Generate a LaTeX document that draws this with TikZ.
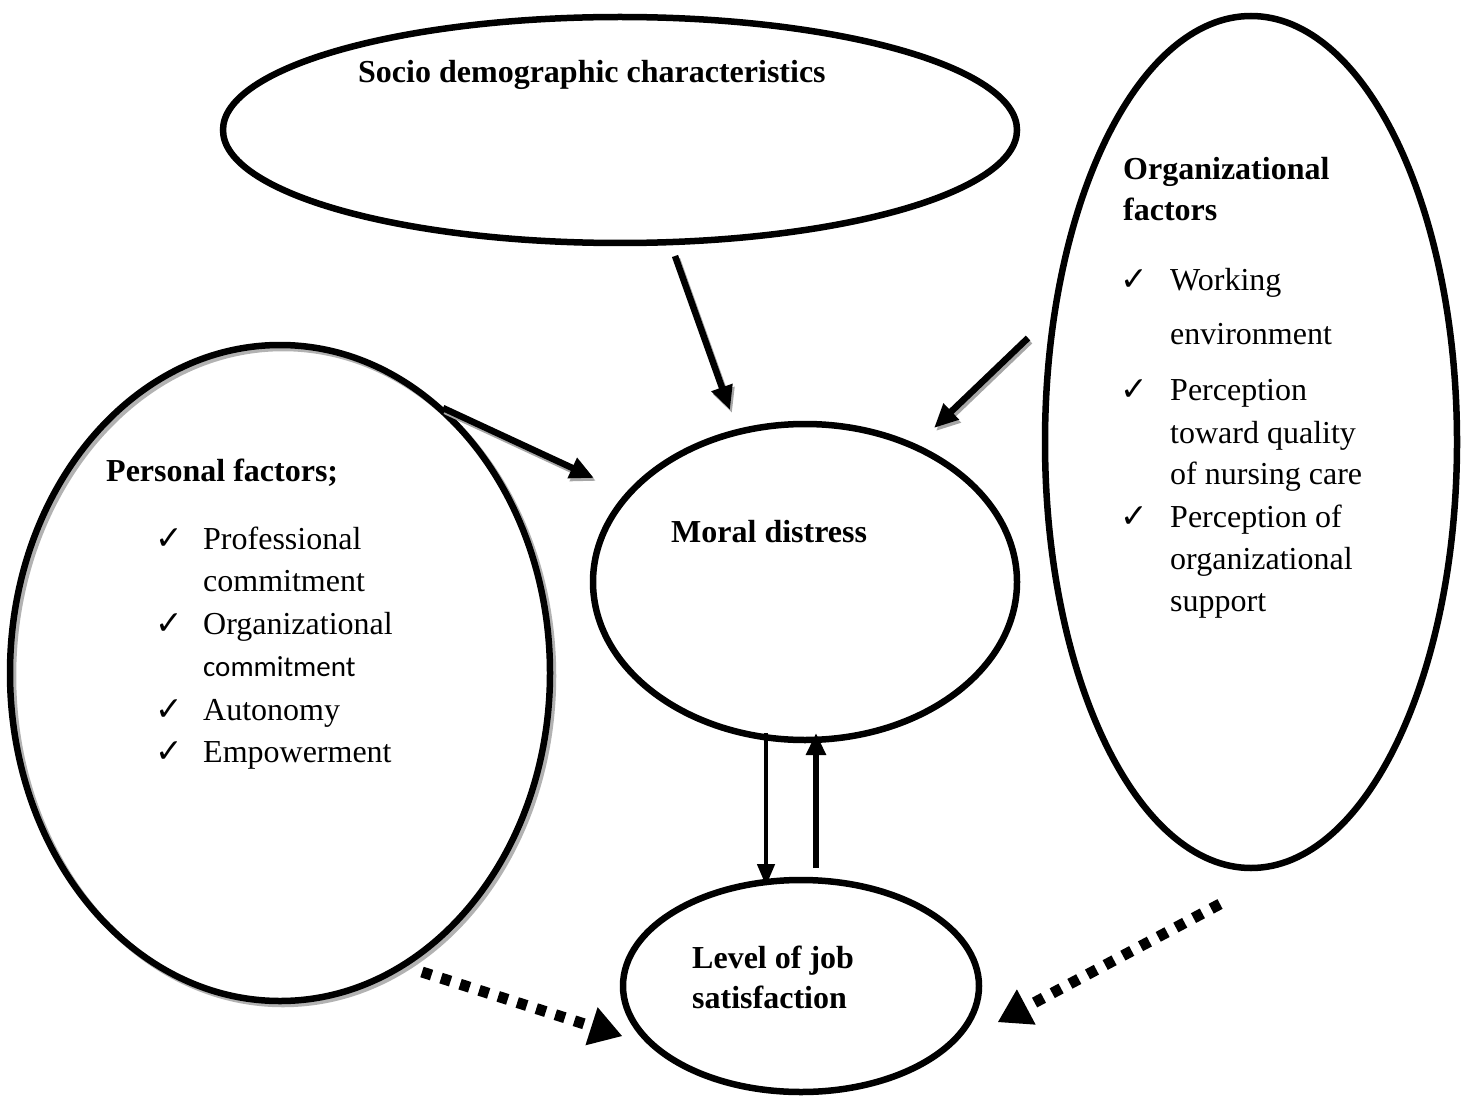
\documentclass[tikz,border=0pt]{standalone}
\usepackage{fontspec}
\setmainfont{Liberation Serif}
\newfontfamily\calib{Carlito}
\newfontfamily\chk{DejaVu Sans}
\usetikzlibrary{shapes.geometric,arrows.meta}
\begin{document}
\begin{tikzpicture}[x=1pt,y=-1pt,
  oval/.style={draw,ellipse,line width=6.5pt,inner sep=0pt},
  txt/.style={anchor=base west,inner sep=0pt,font=\fontsize{32}{40}\selectfont},
  btxt/.style={txt,font=\fontsize{32}{40}\selectfont\bfseries},
  ck/.style={anchor=base west,inner sep=0pt,font=\fontsize{33}{40}\selectfont\chk},
  solidarr/.style={line width=6.5pt,-{Triangle[length=24pt,width=21pt]}},
  shadowarr/.style={line width=6.5pt,draw=gray!70,-{Triangle[length=24pt,width=21pt]}},
  dotarr/.style={line width=11pt,dash pattern=on 10pt off 10pt,-{Triangle[length=32pt,width=40pt,line width=0pt]}}]
\useasboundingbox (0,0) rectangle (1463,1099);
% ellipses
\node[oval,minimum width=794pt,minimum height=226pt] (socio) at (620,130) {};
\node[oval,minimum width=412pt,minimum height=852pt] (org) at (1251,442) {};
\node[ellipse,inner sep=0pt,draw=gray!60,line width=6.5pt,minimum width=540pt,minimum height=656pt] (persshadow) at (283,676) {};
\node[oval,minimum width=540pt,minimum height=656pt] (pers) at (280,673) {};
\node[oval,minimum width=424pt,minimum height=316pt] (moral) at (805,582) {};
\node[oval,minimum width=356pt,minimum height=212pt] (job) at (801,986) {};
% texts
\node[btxt] (t1) at (358,83) {Socio demographic characteristics};
\node[btxt] (o1) at (1123,180) {Organizational};
\node[btxt] (o2) at (1123,221) {factors};
\node[ck] (oc1) at (1120,290) {✓};
\node[txt] (o3) at (1170,290) {Working};
\node[txt] (o4) at (1170,344) {environment};
\node[ck] (oc2) at (1120,400) {✓};
\node[txt] (o5) at (1170,400) {Perception};
\node[txt] (o6) at (1170,443) {toward quality};
\node[txt] (o7) at (1170,484) {of nursing care};
\node[ck] (oc3) at (1120,527) {✓};
\node[txt] (o8) at (1170,527) {Perception of};
\node[txt] (o9) at (1170,569) {organizational};
\node[txt] (o10) at (1170,611) {support};
\node[btxt] (p0) at (106,481) {Personal factors;};
\node[ck] (pc1) at (155,549) {✓};
\node[txt] (p1) at (203,549) {Professional};
\node[txt] (p2) at (203,591) {commitment};
\node[ck] (pc2) at (155,634) {✓};
\node[txt] (p3) at (203,634) {Organizational};
\node[txt,font=\fontsize{29}{36}\selectfont\calib] (p4) at (203,676) {commitment};
\node[ck] (pc3) at (155,720) {✓};
\node[txt] (p5) at (203,720) {Autonomy};
\node[ck] (pc4) at (155,762) {✓};
\node[txt] (p6) at (203,762) {Empowerment};
\node[btxt] (m1) at (671,542) {Moral distress};
\node[btxt] (j1) at (692,968) {Level of job};
\node[btxt] (j2) at (692,1008) {satisfaction};
% arrow endpoints
\coordinate (sa) at (675,256); \coordinate (sb) at (730,410);
\coordinate (oa) at (1028,338); \coordinate (ob) at (934,428);
\coordinate (pa) at (443,408); \coordinate (pb) at (594,478);
\coordinate (da) at (766,733); \coordinate (db) at (766,886);
\coordinate (ua) at (816,868); \coordinate (ub) at (816,733);
\coordinate (la) at (422,972); \coordinate (lb) at (622,1036);
\coordinate (ra) at (1220,904); \coordinate (rb) at (998,1022);
% shadows
\draw[shadowarr] ([shift={(2,3)}]sa) -- ([shift={(2,3)}]sb);
\draw[shadowarr] ([shift={(2,3)}]oa) -- ([shift={(2,3)}]ob);
\draw[shadowarr] ([shift={(2,3)}]pa) -- ([shift={(2,3)}]pb);
% arrows
\draw[solidarr] (sa) -- (sb);
\draw[solidarr] (oa) -- (ob);
\draw[solidarr] (pa) -- (pb);
\draw[line width=4.5pt,-{Triangle[length=22pt,width=17pt]}] (da) -- (db);
\draw[line width=6.5pt,-{Triangle[length=22pt,width=19pt]}] (ua) -- (ub);
\draw[dotarr] (la) -- (lb);
\draw[dotarr] (ra) -- (rb);
\end{tikzpicture}
\end{document}
